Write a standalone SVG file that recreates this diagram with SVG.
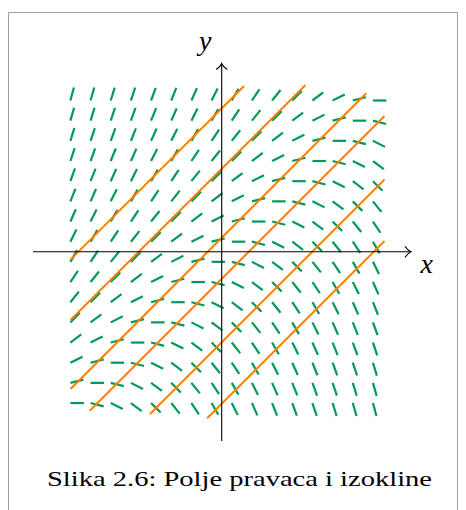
<svg xmlns="http://www.w3.org/2000/svg" width="466" height="510" viewBox="0 0 466 510">
<style>
marker path{fill:none;stroke:#009a55;stroke-width:2.2}
.seg{fill:none;stroke:#009a55;stroke-width:2.2}
.dg{fill:none;stroke:none}
.iso{fill:none;stroke:#ff8000;stroke-width:2}
.ax{fill:none;stroke:#000;stroke-width:1.1}
.lbl{font-family:"Liberation Serif","Times New Roman",serif;font-style:italic;font-size:28px;fill:#000}
.cap{font-family:"Liberation Serif","Times New Roman",serif;font-size:21px;fill:#000}
.k14{marker:url(#k14)}.k13{marker:url(#k13)}.k12{marker:url(#k12)}.k11{marker:url(#k11)}.k10{marker:url(#k10)}
.k9{marker:url(#k9)}.k8{marker:url(#k8)}.k7{marker:url(#k7)}.k6{marker:url(#k6)}.k5{marker:url(#k5)}
.k4{marker:url(#k4)}.k3{marker:url(#k3)}.k2{marker:url(#k2)}.k1{marker:url(#k1)}.k0{marker:url(#k0)}
.n1{marker:url(#n1)}.n2{marker:url(#n2)}.n3{marker:url(#n3)}.n4{marker:url(#n4)}.n5{marker:url(#n5)}
.n6{marker:url(#n6)}.n7{marker:url(#n7)}.n8{marker:url(#n8)}.n9{marker:url(#n9)}.n10{marker:url(#n10)}
.n11{marker:url(#n11)}.n12{marker:url(#n12)}.n13{marker:url(#n13)}.n14{marker:url(#n14)}
</style>
<defs>
<marker id="k14" orient="-74.05" markerUnits="userSpaceOnUse" overflow="visible" markerWidth="14" markerHeight="3" refX="0" refY="0"><path d="M0 0H13.5"/></marker>
<marker id="k13" orient="-72.9" markerUnits="userSpaceOnUse" overflow="visible" markerWidth="14" markerHeight="3" refX="0" refY="0"><path d="M0 0H13.5"/></marker>
<marker id="k12" orient="-71.57" markerUnits="userSpaceOnUse" overflow="visible" markerWidth="14" markerHeight="3" refX="0" refY="0"><path d="M0 0H13.5"/></marker>
<marker id="k11" orient="-70.02" markerUnits="userSpaceOnUse" overflow="visible" markerWidth="14" markerHeight="3" refX="0" refY="0"><path d="M0 0H13.5"/></marker>
<marker id="k10" orient="-68.2" markerUnits="userSpaceOnUse" overflow="visible" markerWidth="14" markerHeight="3" refX="0" refY="0"><path d="M0 0H13.5"/></marker>
<marker id="k9" orient="-66.04" markerUnits="userSpaceOnUse" overflow="visible" markerWidth="14" markerHeight="3" refX="0" refY="0"><path d="M0 0H13.5"/></marker>
<marker id="k8" orient="-63.43" markerUnits="userSpaceOnUse" overflow="visible" markerWidth="14" markerHeight="3" refX="0" refY="0"><path d="M0 0H13.5"/></marker>
<marker id="k7" orient="-60.26" markerUnits="userSpaceOnUse" overflow="visible" markerWidth="14" markerHeight="3" refX="0" refY="0"><path d="M0 0H13.5"/></marker>
<marker id="k6" orient="-56.31" markerUnits="userSpaceOnUse" overflow="visible" markerWidth="14" markerHeight="3" refX="0" refY="0"><path d="M0 0H13.5"/></marker>
<marker id="k5" orient="-51.34" markerUnits="userSpaceOnUse" overflow="visible" markerWidth="14" markerHeight="3" refX="0" refY="0"><path d="M0 0H13.5"/></marker>
<marker id="k4" orient="-45" markerUnits="userSpaceOnUse" overflow="visible" markerWidth="14" markerHeight="3" refX="0" refY="0"><path d="M0 0H13.5"/></marker>
<marker id="k3" orient="-36.87" markerUnits="userSpaceOnUse" overflow="visible" markerWidth="14" markerHeight="3" refX="0" refY="0"><path d="M0 0H13.5"/></marker>
<marker id="k2" orient="-26.57" markerUnits="userSpaceOnUse" overflow="visible" markerWidth="14" markerHeight="3" refX="0" refY="0"><path d="M0 0H13.5"/></marker>
<marker id="k1" orient="-14.04" markerUnits="userSpaceOnUse" overflow="visible" markerWidth="14" markerHeight="3" refX="0" refY="0"><path d="M0 0H13.5"/></marker>
<marker id="k0" orient="0" markerUnits="userSpaceOnUse" overflow="visible" markerWidth="14" markerHeight="3" refX="0" refY="0"><path d="M0 0H13.5"/></marker>
<marker id="n1" orient="14.04" markerUnits="userSpaceOnUse" overflow="visible" markerWidth="14" markerHeight="3" refX="0" refY="0"><path d="M0 0H13.5"/></marker>
<marker id="n2" orient="26.57" markerUnits="userSpaceOnUse" overflow="visible" markerWidth="14" markerHeight="3" refX="0" refY="0"><path d="M0 0H13.5"/></marker>
<marker id="n3" orient="36.87" markerUnits="userSpaceOnUse" overflow="visible" markerWidth="14" markerHeight="3" refX="0" refY="0"><path d="M0 0H13.5"/></marker>
<marker id="n4" orient="45" markerUnits="userSpaceOnUse" overflow="visible" markerWidth="14" markerHeight="3" refX="0" refY="0"><path d="M0 0H13.5"/></marker>
<marker id="n5" orient="51.34" markerUnits="userSpaceOnUse" overflow="visible" markerWidth="14" markerHeight="3" refX="0" refY="0"><path d="M0 0H13.5"/></marker>
<marker id="n6" orient="56.31" markerUnits="userSpaceOnUse" overflow="visible" markerWidth="14" markerHeight="3" refX="0" refY="0"><path d="M0 0H13.5"/></marker>
<marker id="n7" orient="60.26" markerUnits="userSpaceOnUse" overflow="visible" markerWidth="14" markerHeight="3" refX="0" refY="0"><path d="M0 0H13.5"/></marker>
<marker id="n8" orient="63.43" markerUnits="userSpaceOnUse" overflow="visible" markerWidth="14" markerHeight="3" refX="0" refY="0"><path d="M0 0H13.5"/></marker>
<marker id="n9" orient="66.04" markerUnits="userSpaceOnUse" overflow="visible" markerWidth="14" markerHeight="3" refX="0" refY="0"><path d="M0 0H13.5"/></marker>
<marker id="n10" orient="68.2" markerUnits="userSpaceOnUse" overflow="visible" markerWidth="14" markerHeight="3" refX="0" refY="0"><path d="M0 0H13.5"/></marker>
<marker id="n11" orient="70.02" markerUnits="userSpaceOnUse" overflow="visible" markerWidth="14" markerHeight="3" refX="0" refY="0"><path d="M0 0H13.5"/></marker>
<marker id="n12" orient="71.57" markerUnits="userSpaceOnUse" overflow="visible" markerWidth="14" markerHeight="3" refX="0" refY="0"><path d="M0 0H13.5"/></marker>
<marker id="n13" orient="72.9" markerUnits="userSpaceOnUse" overflow="visible" markerWidth="14" markerHeight="3" refX="0" refY="0"><path d="M0 0H13.5"/></marker>
<marker id="n14" orient="74.05" markerUnits="userSpaceOnUse" overflow="visible" markerWidth="14" markerHeight="3" refX="0" refY="0"><path d="M0 0H13.5"/></marker>
</defs>
<rect x="8.5" y="12.5" width="449" height="520" fill="none" stroke="#a0a0a0" stroke-width="1"/>
<g id="field">
<path class="seg" d="M70.4 100.5l3.48-13.04"/>
<path class="dg k14" d="M70.4 120.67l20.17-20.17"/>
<path class="dg k13" d="M70.4 140.84l20.17-20.17l20.17-20.17"/>
<path class="dg k12" d="M70.4 161.01l20.17-20.17l20.17-20.17l20.17-20.17"/>
<path class="dg k11" d="M70.4 181.18l20.17-20.17l20.17-20.17l20.17-20.17l20.17-20.17"/>
<path class="dg k10" d="M70.4 201.35l20.17-20.17l20.17-20.17l20.17-20.17l20.17-20.17l20.17-20.17"/>
<path class="dg k9" d="M70.4 221.52l20.17-20.17l20.17-20.17l20.17-20.17l20.17-20.17l20.17-20.17l20.17-20.17"/>
<path class="dg k8" d="M70.4 241.69l20.17-20.17l20.17-20.17l20.17-20.17l20.17-20.17l20.17-20.17l20.17-20.17l20.17-20.17"/>
<path class="dg k7" d="M70.4 261.86l20.17-20.17l20.17-20.17l20.17-20.17l20.17-20.17l20.17-20.17l20.17-20.17l20.17-20.17l20.17-20.17"/>
<path class="dg k6" d="M70.4 282.03l20.17-20.17l20.17-20.17l20.17-20.17l20.17-20.17l20.17-20.17l20.17-20.17l20.17-20.17l20.17-20.17l20.17-20.17"/>
<path class="dg k5" d="M70.4 302.2l20.17-20.17l20.17-20.17l20.17-20.17l20.17-20.17l20.17-20.17l20.17-20.17l20.17-20.17l20.17-20.17l20.17-20.17l20.17-20.17"/>
<path class="dg k4" d="M70.4 322.37l20.17-20.17l20.17-20.17l20.17-20.17l20.17-20.17l20.17-20.17l20.17-20.17l20.17-20.17l20.17-20.17l20.17-20.17l20.17-20.17l20.17-20.17"/>
<path class="dg k3" d="M70.4 342.54l20.17-20.17l20.17-20.17l20.17-20.17l20.17-20.17l20.17-20.17l20.17-20.17l20.17-20.17l20.17-20.17l20.17-20.17l20.17-20.17l20.17-20.17l20.17-20.17"/>
<path class="dg k2" d="M70.4 362.71l20.17-20.17l20.17-20.17l20.17-20.17l20.17-20.17l20.17-20.17l20.17-20.17l20.17-20.17l20.17-20.17l20.17-20.17l20.17-20.17l20.17-20.17l20.17-20.17l20.17-20.17"/>
<path class="dg k1" d="M70.4 382.88l20.17-20.17l20.17-20.17l20.17-20.17l20.17-20.17l20.17-20.17l20.17-20.17l20.17-20.17l20.17-20.17l20.17-20.17l20.17-20.17l20.17-20.17l20.17-20.17l20.17-20.17l20.17-20.17"/>
<path class="dg k0" d="M70.4 403.05l20.17-20.17l20.17-20.17l20.17-20.17l20.17-20.17l20.17-20.17l20.17-20.17l20.17-20.17l20.17-20.17l20.17-20.17l20.17-20.17l20.17-20.17l20.17-20.17l20.17-20.17l20.17-20.17l20.17-20.17"/>
<path class="dg n1" d="M90.57 403.05l20.17-20.17l20.17-20.17l20.17-20.17l20.17-20.17l20.17-20.17l20.17-20.17l20.17-20.17l20.17-20.17l20.17-20.17l20.17-20.17l20.17-20.17l20.17-20.17l20.17-20.17l20.17-20.17"/>
<path class="dg n2" d="M110.74 403.05l20.17-20.17l20.17-20.17l20.17-20.17l20.17-20.17l20.17-20.17l20.17-20.17l20.17-20.17l20.17-20.17l20.17-20.17l20.17-20.17l20.17-20.17l20.17-20.17l20.17-20.17"/>
<path class="dg n3" d="M130.91 403.05l20.17-20.17l20.17-20.17l20.17-20.17l20.17-20.17l20.17-20.17l20.17-20.17l20.17-20.17l20.17-20.17l20.17-20.17l20.17-20.17l20.17-20.17l20.17-20.17"/>
<path class="dg n4" d="M151.08 403.05l20.17-20.17l20.17-20.17l20.17-20.17l20.17-20.17l20.17-20.17l20.17-20.17l20.17-20.17l20.17-20.17l20.17-20.17l20.17-20.17l20.17-20.17"/>
<path class="dg n5" d="M171.25 403.05l20.17-20.17l20.17-20.17l20.17-20.17l20.17-20.17l20.17-20.17l20.17-20.17l20.17-20.17l20.17-20.17l20.17-20.17l20.17-20.17"/>
<path class="dg n6" d="M191.42 403.05l20.17-20.17l20.17-20.17l20.17-20.17l20.17-20.17l20.17-20.17l20.17-20.17l20.17-20.17l20.17-20.17l20.17-20.17"/>
<path class="dg n7" d="M211.59 403.05l20.17-20.17l20.17-20.17l20.17-20.17l20.17-20.17l20.17-20.17l20.17-20.17l20.17-20.17l20.17-20.17"/>
<path class="dg n8" d="M231.76 403.05l20.17-20.17l20.17-20.17l20.17-20.17l20.17-20.17l20.17-20.17l20.17-20.17l20.17-20.17"/>
<path class="dg n9" d="M251.93 403.05l20.17-20.17l20.17-20.17l20.17-20.17l20.17-20.17l20.17-20.17l20.17-20.17"/>
<path class="dg n10" d="M272.1 403.05l20.17-20.17l20.17-20.17l20.17-20.17l20.17-20.17l20.17-20.17"/>
<path class="dg n11" d="M292.27 403.05l20.17-20.17l20.17-20.17l20.17-20.17l20.17-20.17"/>
<path class="dg n12" d="M312.44 403.05l20.17-20.17l20.17-20.17l20.17-20.17"/>
<path class="dg n13" d="M332.61 403.05l20.17-20.17l20.17-20.17"/>
<path class="dg n14" d="M352.78 403.05l20.17-20.17"/>
<path class="seg" d="M372.95 403.05l3.48 13.04"/>
</g>
<g id="isoclines">
<path class="iso" d="M70.5 259.6L244.1 86"/>
<path class="iso" d="M70.5 320L305.5 85"/>
<path class="iso" d="M70.5 389L366.2 93.3"/>
<path class="iso" d="M89.8 410.7L384.5 116"/>
<path class="iso" d="M150 414L384.5 179.5"/>
<path class="iso" d="M207.2 418.3L384.5 241"/>
</g>
<g id="axes">
<path class="ax" d="M33 251.8H410.5"/>
<path class="ax" d="M405 246.2C407 249.4 408.8 251 411 251.8C408.8 252.6 407 254.2 405 257.4"/>
<path class="ax" d="M221.7 441V64"/>
<path class="ax" d="M216.1 69.5C219.3 67.5 220.9 65.7 221.7 63.5C222.5 65.7 224.1 67.5 227.3 69.5"/>
<text class="lbl" x="199" y="49.5">y</text>
<text class="lbl" x="420.5" y="272.7">x</text>
</g>
<text class="cap" x="47" y="486" textLength="385" lengthAdjust="spacingAndGlyphs">Slika 2.6: Polje pravaca i izokline</text>
</svg>
